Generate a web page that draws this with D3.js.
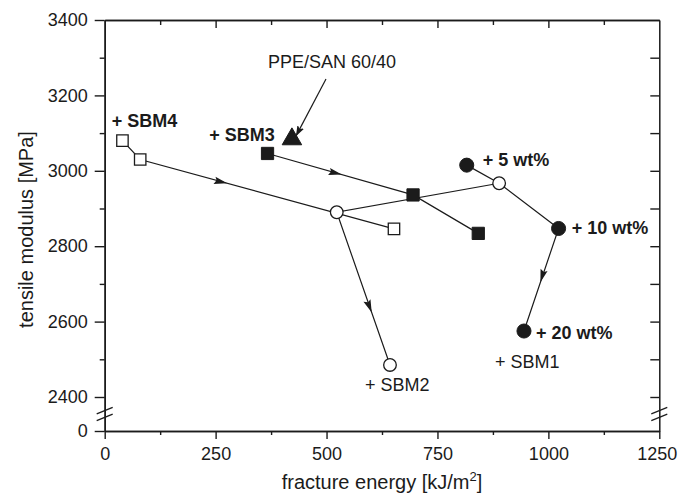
<!DOCTYPE html>
<html>
<head>
<meta charset="utf-8">
<script src="https://cdn.jsdelivr.net/npm/d3@7"></script>
<style>
  html, body { margin: 0; padding: 0; background: #fff; }
  svg { display: block; font-family: "Liberation Sans", Arial, Helvetica, sans-serif; }
</style>
</head>
<body>
<div id="chart"></div>
<script>
// fracture energy [kJ/m2] (x) and tensile modulus [MPa] (y)
const sbm4Energy = [40, 80, 652];
const sbm4Modulus = [3080, 3030, 2846];

const sbm3Energy = [367, 695, 842];
const sbm3Modulus = [3046, 2936, 2834];

const sbm2Energy = [889, 523, 643];
const sbm2Modulus = [2967, 2890, 2485];

const sbm1Energy = [816, 1023, 945];
const sbm1Modulus = [3015, 2847, 2575];

const blendEnergy = [422];
const blendModulus = [3084];

const xTicks = [0, 250, 500, 750, 1000, 1250];
const xMinorTicks = [125, 375, 625, 875, 1125];
const yTicks = [0, 2400, 2600, 2800, 3000, 3200, 3400];
const yMinorTicks = [2500, 2700, 2900, 3100, 3300];

const labelTexts = ['+ SBM4', '+ SBM3', '+ 5 wt%', '+ 10 wt%', '+ 20 wt%', '+ SBM1', '+ SBM2', 'PPE/SAN 60/40'];

const ink = '#1b1b1b';

// ------------------------------------------------------------------------
// SIZE + SCALES
// ------------------------------------------------------------------------
const svgWidth = 678, svgHeight = 493;
const plotLeft = 104.7, plotRight = 659.3, plotTop = 20, plotBottom = 431;

const svg = d3.select('#chart').append('svg')
  .attr('width', svgWidth)
  .attr('height', svgHeight);

const x = d3.scaleLinear().domain([0, 1250]).range([plotLeft, plotRight]);
// broken axis: 0 sits just under the 2400 tick
const y = d3.scaleLinear().domain([0, 2400, 3400]).range([plotBottom, 397, plotTop]);

const pts = (xs, ys) => xs.map((v, i) => [v, ys[i]]);
const sbm4 = pts(sbm4Energy, sbm4Modulus);
const sbm3 = pts(sbm3Energy, sbm3Modulus);
const sbm2 = pts(sbm2Energy, sbm2Modulus);
const sbm1 = pts(sbm1Energy, sbm1Modulus);
const blend = pts(blendEnergy, blendModulus);

// ------------------------------------------------------------------------
// AXES
// ------------------------------------------------------------------------
function styleAxis(g, showText) {
  g.attr('font-size', 18).attr('font-family', null);
  g.select('.domain').attr('stroke', ink).attr('stroke-width', 1.5);
  g.selectAll('.tick line').attr('stroke', ink).attr('stroke-width', 1.4);
  g.selectAll('.tick text').attr('fill', ink);
  if (!showText) g.selectAll('.tick text').remove();
}

svg.append('g').attr('transform', `translate(0,${plotBottom})`)
  .call(d3.axisBottom(x).tickValues(xMinorTicks).tickSize(4).tickSizeOuter(0))
  .call(g => styleAxis(g, false));
svg.append('g').attr('transform', `translate(0,${plotBottom})`)
  .call(d3.axisBottom(x).tickValues(xTicks).tickSize(8).tickPadding(8).tickSizeOuter(0).tickFormat(d3.format('d')))
  .call(g => styleAxis(g, true))
  // last label hugs the right edge of the picture
  .call(g => g.selectAll('.tick text').filter(d => d === 1250).attr('dx', -2.5));

svg.append('g').attr('transform', `translate(0,${plotTop})`)
  .call(d3.axisTop(x).tickValues(xMinorTicks).tickSize(-5).tickSizeOuter(0))
  .call(g => styleAxis(g, false));
svg.append('g').attr('transform', `translate(0,${plotTop})`)
  .call(d3.axisTop(x).tickValues(xTicks.slice(1, -1)).tickSize(-8).tickSizeOuter(0))
  .call(g => styleAxis(g, false));

svg.append('g').attr('transform', `translate(${plotLeft},0)`)
  .call(d3.axisLeft(y).tickValues(yMinorTicks).tickSize(5).tickSizeOuter(0))
  .call(g => styleAxis(g, false));
svg.append('g').attr('transform', `translate(${plotLeft},0)`)
  .call(d3.axisLeft(y).tickValues(yTicks).tickSize(10).tickPadding(7).tickSizeOuter(0).tickFormat(d3.format('d')))
  .call(g => styleAxis(g, true));

svg.append('g').attr('transform', `translate(${plotRight},0)`)
  .call(d3.axisRight(y).tickValues(yTicks.slice(1, -1).concat(yMinorTicks)).tickSize(-9).tickSizeOuter(0))
  .call(g => styleAxis(g, false));

// axis break marks
const breakY = (y(0) + y(2400)) / 2;
[plotLeft, plotRight].forEach(ax => {
  [-3.4, 3.4].forEach(off => {
    svg.append('line')
      .attr('x1', ax - 8).attr('y1', breakY + off + 3.2)
      .attr('x2', ax + 8).attr('y2', breakY + off - 3.2)
      .attr('stroke', ink).attr('stroke-width', 1.3);
  });
});

// axis titles
svg.append('text')
  .attr('x', (plotLeft + plotRight) / 2).attr('y', 489)
  .attr('text-anchor', 'middle').attr('font-size', 20).attr('fill', ink)
  .call(t => {
    t.append('tspan').text('fracture energy [kJ/m');
    t.append('tspan').attr('font-size', 13).attr('dy', -8).text('2');
    t.append('tspan').attr('dy', 8).text(']');
  });

svg.append('text')
  .attr('transform', `translate(33,${(plotTop + plotBottom) / 2 + 4}) rotate(-90)`)
  .attr('text-anchor', 'middle').attr('font-size', 20).attr('fill', ink)
  .text('tensile modulus [MPa]');

// ------------------------------------------------------------------------
// CONNECTING LINES + DIRECTION ARROWS
// ------------------------------------------------------------------------
const line = d3.line().x(d => x(d[0])).y(d => y(d[1]));
const paths = [
  sbm4,
  sbm3,
  sbm2,
  [sbm1[0], sbm2[0], sbm1[1], sbm1[2]],
];
svg.append('g').selectAll('path').data(paths).join('path')
  .attr('d', line)
  .attr('fill', 'none')
  .attr('stroke', ink)
  .attr('stroke-width', 1.2);

// arrow heads: [path index, segment index, position along segment]
const arrows = [[0, 1, 0.32], [1, 0, 0.47], [2, 1, 0.62], [3, 2, 0.47]];
svg.append('g').selectAll('path').data(arrows).join('path')
  .attr('d', 'M6,0 L-7,-3.2 L-5,0 L-7,4.2 Z')
  .attr('fill', ink)
  .attr('transform', ([p, s, t]) => {
    const a = paths[p][s], b = paths[p][s + 1];
    const x0 = x(a[0]), y0 = y(a[1]), x1 = x(b[0]), y1 = y(b[1]);
    const ang = Math.atan2(y1 - y0, x1 - x0) * 180 / Math.PI;
    return `translate(${x0 + (x1 - x0) * t},${y0 + (y1 - y0) * t}) rotate(${ang})`;
  });

// ------------------------------------------------------------------------
// MARKERS
// ------------------------------------------------------------------------
const marker = (data, type, size, filled) => {
  svg.append('g').selectAll('path').data(data).join('path')
    .attr('d', d3.symbol(type, size))
    .attr('transform', d => `translate(${x(d[0])},${y(d[1])})`)
    .attr('fill', filled ? ink : '#fff')
    .attr('stroke', ink)
    .attr('stroke-width', filled ? 1 : 1.3);
};
marker(sbm4, d3.symbolSquare, 130, false);
marker(sbm3, d3.symbolSquare, 150, true);
marker(sbm2, d3.symbolCircle, 125, false);
marker(sbm1, d3.symbolCircle, 155, true);
marker(blend, d3.symbolTriangle, 165, true);

// ------------------------------------------------------------------------
// ANNOTATIONS
// ------------------------------------------------------------------------
const labelPos = [
  [111.7, 126.7, 'bold'], [209.3, 140.7, 'bold'], [482.7, 166, 'bold'],
  [571.7, 234.3, 'bold'], [536, 339, 'bold'], [495, 368.3, 'normal'],
  [365, 391, 'normal'], [268, 68, 'normal'],
];
svg.append('g').selectAll('text').data(labelTexts).join('text')
  .attr('x', (d, i) => labelPos[i][0])
  .attr('y', (d, i) => labelPos[i][1])
  .attr('font-size', 18)
  .attr('font-weight', (d, i) => labelPos[i][2])
  .attr('fill', ink)
  .text(d => d);

// pointer from the blend label to the triangle
svg.append('defs').append('marker')
  .attr('id', 'tip').attr('viewBox', '-10 -5 12 10')
  .attr('markerWidth', 12).attr('markerHeight', 10)
  .attr('markerUnits', 'userSpaceOnUse').attr('orient', 'auto')
  .append('path').attr('d', 'M0,0 L-11,-4 L-8,0 L-11,4 Z').attr('fill', ink);
svg.append('line')
  .attr('x1', 326).attr('y1', 79)
  .attr('x2', x(blend[0][0]) + 4).attr('y2', y(blend[0][1]) - 3)
  .attr('stroke', ink).attr('stroke-width', 1.2)
  .attr('marker-end', 'url(#tip)');
</script>
</body>
</html>
